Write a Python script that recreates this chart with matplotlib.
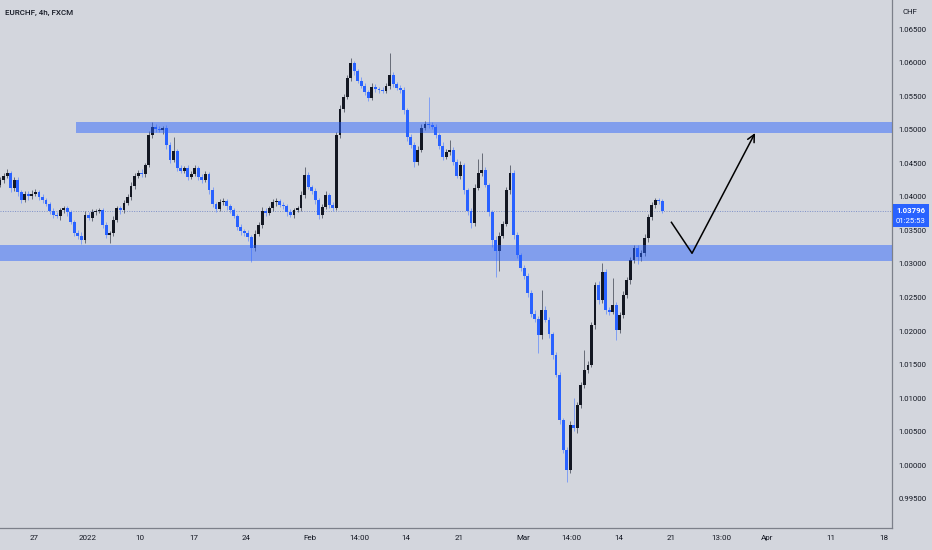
import numpy as np
import matplotlib
matplotlib.use("Agg")
import matplotlib.pyplot as plt
from matplotlib.patches import Rectangle

plt.rcParams["font.family"] = ["Roboto", "DejaVu Sans"]

# ---- data (EURCHF, resampled to 3 bars per trading day) ----
FIRST_OPEN = 1.0418
CLOSES = [
    1.0425, 1.0431, 1.0436, 1.0413, 1.0425, 1.0407, 1.0395, 1.0404, 1.0401, 1.0404,
    1.0407, 1.0400, 1.0395, 1.0389, 1.0379, 1.0373, 1.0371, 1.0380, 1.0383, 1.0377,
    1.0363, 1.0346, 1.0342, 1.0336, 1.0373, 1.0369, 1.0377, 1.0379, 1.0380, 1.0358,
    1.0343, 1.0346, 1.0366, 1.0383, 1.0380, 1.0391, 1.0400, 1.0416, 1.0431, 1.0436,
    1.0434, 1.0447, 1.0492, 1.0504, 1.0501, 1.0500, 1.0503, 1.0477, 1.0455, 1.0468,
    1.0443, 1.0439, 1.0443, 1.0430, 1.0434, 1.0443, 1.0430, 1.0425, 1.0434, 1.0410,
    1.0389, 1.0382, 1.0392, 1.0394, 1.0386, 1.0380, 1.0371, 1.0355, 1.0349, 1.0346,
    1.0340, 1.0324, 1.0345, 1.0358, 1.0379, 1.0376, 1.0383, 1.0392, 1.0394, 1.0388,
    1.0386, 1.0377, 1.0373, 1.0380, 1.0383, 1.0403, 1.0433, 1.0415, 1.0409, 1.0395,
    1.0373, 1.0385, 1.0403, 1.0388, 1.0383, 1.0492, 1.0531, 1.0549, 1.0577, 1.0599,
    1.0587, 1.0573, 1.0565, 1.0556, 1.0547, 1.0564, 1.0561, 1.0559, 1.0558, 1.0565,
    1.0582, 1.0568, 1.0562, 1.0559, 1.0529, 1.0489, 1.0477, 1.0452, 1.0470, 1.0503,
    1.0509, 1.0507, 1.0504, 1.0492, 1.0476, 1.0459, 1.0467, 1.0470, 1.0452, 1.0431,
    1.0447, 1.0410, 1.0379, 1.0361, 1.0413, 1.0436, 1.0440, 1.0418, 1.0377, 1.0336,
    1.0319, 1.0342, 1.0360, 1.0410, 1.0436, 1.0343, 1.0313, 1.0294, 1.0282, 1.0257,
    1.0226, 1.0218, 1.0194, 1.0232, 1.0217, 1.0196, 1.0164, 1.0135, 1.0068, 1.0023,
    0.9993, 1.0060, 1.0055, 1.0090, 1.0120, 1.0142, 1.0150, 1.0209, 1.0269, 1.0246,
    1.0288, 1.0232, 1.0229, 1.0239, 1.0202, 1.0224, 1.0254, 1.0276, 1.0306, 1.0324,
    1.0310, 1.0316, 1.0339, 1.0370, 1.0388, 1.0395, 1.0394, 1.03796,
]
UPPER_WICK_PIPS = [
    5, 4, 6, 3, 5, 4, 3, 5, 4, 6,   4, 3, 5, 4, 3, 4, 5, 3, 4, 3,
    4, 3, 4, 5, 6, 4, 5, 3, 4, 3,   4, 3, 5, 4, 3, 5, 4, 6, 5, 4,
    5, 4, 6, 8, 4, 5, 3, 4, 5, 21,  4, 5, 3, 4, 5, 4, 3, 4, 5, 3,
    4, 3, 5, 4, 3, 4, 3, 4, 5, 3,   4, 3, 5, 4, 6, 4, 3, 5, 4, 3,
    4, 3, 5, 4, 3, 5, 11, 4, 3, 4,  3, 4, 5, 3, 4, 5, 6, 4, 5, 8,
    4, 3, 5, 4, 3, 5, 4, 3, 5, 4,   32, 4, 3, 5, 4, 3, 5, 4, 6, 5,
    4, 40, 5, 4, 3, 5, 4, 15, 4, 5, 6, 4, 3, 5, 6, 20, 25, 4, 3, 4,
    5, 6, 4, 5, 11, 4, 5, 3, 4, 5,  4, 6, 4, 30, 5, 4, 3, 5, 4, 3,
    4, 6, 40, 5, 4, 30, 6, 5, 4, 5, 14, 5, 4, 40, 5, 4, 6, 5, 4, 5,
    4, 5, 6, 4, 5, 3, 4, 3,
]
LOWER_WICK_PIPS = [
    4, 5, 3, 6, 4, 5, 4, 3, 5, 4,   3, 5, 4, 3, 5, 4, 3, 5, 4, 6,
    3, 4, 5, 6, 4, 3, 5, 4, 3, 5,   4, 12, 4, 3, 5, 4, 3, 4, 5, 3,
    4, 5, 3, 4, 5, 4, 6, 5, 4, 3,   5, 4, 3, 5, 4, 3, 5, 4, 3, 5,
    4, 5, 3, 4, 5, 4, 3, 5, 6, 4,   5, 21, 4, 3, 5, 4, 3, 4, 5, 3,
    4, 5, 3, 4, 3, 4, 5, 3, 4, 5,   6, 4, 3, 5, 4, 3, 4, 5, 3, 4,
    5, 4, 3, 5, 4, 3, 5, 4, 3, 4,   4, 5, 3, 4, 5, 6, 4, 7, 4, 3,
    4, 5, 3, 4, 5, 4, 3, 4, 5, 3,   4, 5, 6, 7, 4, 3, 5, 4, 5, 10,
    38, 30, 4, 3, 5, 6, 4, 5, 4, 6, 5, 4, 26, 5, 4, 6, 5, 4, 6, 5,
    17, 5, 4, 6, 5, 4, 5, 4, 6, 5,  4, 6, 5, 4, 15, 5, 4, 5, 6, 4,
    10, 5, 4, 6, 4, 5, 4, 3,
]
LAST_PRICE = 1.03796
COUNTDOWN = "01:25:53"

# zones: (first trading day, low, high); None -> from left edge
UPPER_ZONE = (3.95, 1.0495, 1.0511)
LOWER_ZONE = (None, 1.0305, 1.0328)

# hand-drawn projection (trading day, price)
PATH_DAYS = [59.95, 61.93, 67.86]
PATH_PRICES = [1.0363, 1.0316, 1.0495]

# time axis: trading days counted from Mon 27 Dec 2021
FIRST_BAR_DAY = -3.2
BARS_PER_DAY = 3
TICK_DAYS = [0, 5, 10, 15, 20, 26, 30.58, 35, 40, 46, 50.58, 55, 60, 64.66, 69, 75, 80]
TICK_LABELS = ["27", "2022", "10", "17", "24", "Feb", "14:00", "14", "21",
               "Mar", "14:00", "14", "21", "13:00", "Apr", "11", "18"]
PRICE_TICKS = [0.995, 1.000, 1.005, 1.010, 1.015, 1.020, 1.025, 1.030,
               1.035, 1.040, 1.045, 1.050, 1.055, 1.060, 1.065]

BG = "#d3d6dd"
UP = "#131722"
DOWN = "#2962ff"
TXT = "#131722"
AXLINE = "#7c808a"

W, H = 932, 550
fig = plt.figure(figsize=(W / 100, H / 100), dpi=100, facecolor=BG)
ax = fig.add_axes([0, 22 / H, 892 / W, 528 / H], facecolor=BG)
ax.set_xlim(-3.2, 80.75)
ax.set_ylim(0.99068, 1.06932)

closes = np.array(CLOSES)
opens = np.concatenate([[FIRST_OPEN], closes[:-1]])
highs = np.maximum(opens, closes) + np.array(UPPER_WICK_PIPS) * 1e-4
lows = np.minimum(opens, closes) - np.array(LOWER_WICK_PIPS) * 1e-4
days = FIRST_BAR_DAY + np.arange(len(closes)) / BARS_PER_DAY
up = closes >= opens

ax.vlines(days[up], lows[up], highs[up], color="#555a66", lw=0.6, zorder=2)
ax.vlines(days[~up], lows[~up], highs[~up], color="#7396f8", lw=0.6, zorder=2)
body = np.maximum(np.abs(closes - opens), 0.00008)
ax.bar(days, body, bottom=np.minimum(opens, closes), width=0.27,
       color=np.where(up, UP, DOWN), lw=0, zorder=3)

# zones drawn over the candles, semi-transparent
for start, lo, hi in (UPPER_ZONE, LOWER_ZONE):
    x0 = ax.get_xlim()[0] if start is None else start
    ax.fill_between([x0, ax.get_xlim()[1]], lo, hi, color=DOWN, alpha=0.48,
                    lw=0, zorder=4)

ax.axhline(LAST_PRICE, color="#7d90c8", lw=0.7, ls=(0, (1, 1.5)), zorder=1)

# projection arrow
ax.plot(PATH_DAYS[:2], PATH_PRICES[:2], color="black", lw=1.1, zorder=5,
        solid_capstyle="butt")
ax.annotate("", xy=(PATH_DAYS[2], PATH_PRICES[2]),
            xytext=(PATH_DAYS[1], PATH_PRICES[1]),
            arrowprops=dict(arrowstyle="->", color="black", lw=1.1,
                            mutation_scale=13, shrinkA=0, shrinkB=0), zorder=5)

# axes styling
for s in ("top", "left"):
    ax.spines[s].set_visible(False)
for s in ("right", "bottom"):
    ax.spines[s].set_color(AXLINE)
    ax.spines[s].set_linewidth(0.9)
ax.yaxis.tick_right()
ax.set_yticks(PRICE_TICKS)
ax.set_yticklabels([f"{v:.5f}" for v in PRICE_TICKS])
ax.set_xticks(TICK_DAYS)
ax.set_xticklabels(TICK_LABELS)
ax.tick_params(axis="y", length=0, pad=4.5, labelsize=5.6, labelcolor=TXT)
ax.tick_params(axis="x", length=0, pad=5, labelsize=5.8, labelcolor=TXT)

fig.text(5 / W, 1 - 13 / H, "EURCHF, 4h, FXCM", fontsize=5.8, color=TXT,
         fontweight="medium", va="center", ha="left")
fig.text(910 / W, 1 - 12.5 / H, "CHF", fontsize=5.6, color=TXT, va="center",
         ha="center")

# last price label on the scale
fig.canvas.draw()
_, py = ax.transData.transform((0, LAST_PRICE))
yf = py / H
box = Rectangle((893 / W, yf - 16.5 / H), 36 / W, 23 / H, transform=fig.transFigure,
                facecolor=DOWN, edgecolor="none", zorder=10)
fig.add_artist(box)
fig.text(911 / W, yf, f"{LAST_PRICE:.5f}", fontsize=5.6, color="white",
         fontweight="bold", ha="center", va="center", zorder=11)
fig.text(911 / W, yf - 10 / H, COUNTDOWN, fontsize=5.6, color="white",
         ha="center", va="center", zorder=11)

fig.savefig("out.png", dpi=100, facecolor=BG)
